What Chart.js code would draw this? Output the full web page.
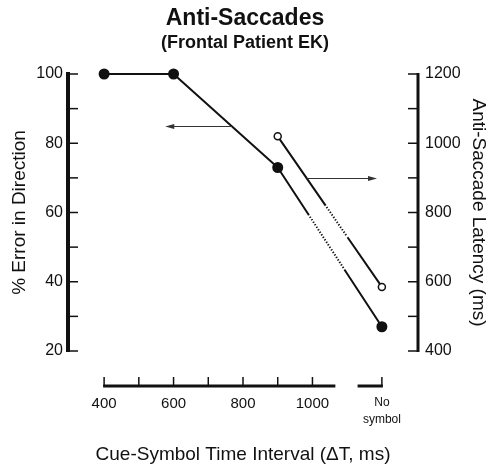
<!DOCTYPE html>
<html>
<head>
<meta charset="utf-8">
<script src="https://cdn.jsdelivr.net/npm/chart.js@4.4.1/dist/chart.umd.min.js"></script>
<style>
  html, body { margin: 0; padding: 0; background: #fff; }
</style>
</head>
<body>
<canvas id="chart" width="490" height="466"></canvas>
<script>
// interval values in ms; 1200 stands for the "No symbol" condition
const NO_SYMBOL = 1200;
const errorIntervals = [400, 600, 900, NO_SYMBOL];
const errorPct = [100, 100, 73, 27];
const latencyIntervals = [900, NO_SYMBOL];
const latencyMs = [1020, 585];

const xTickValues = [400, 500, 600, 700, 800, 900, 1000, NO_SYMBOL];
const xTickLabels = ['400', '', '600', '', '800', '', '1000', ['No', 'symbol']];
const errorTicks = [20, 40, 60, 80, 100];
const latencyTicks = [400, 600, 800, 1000, 1200];

const ink = '#111';
const family = "'Liberation Sans', Arial, sans-serif";
Chart.defaults.font.family = family;
Chart.defaults.color = ink;

// solid - dotted - solid across the axis break
function brokenDash(from, to, lastIndex) {
    return function (ctx) {
        if (ctx.p1DataIndex !== lastIndex) {
            return undefined;
        }
        const len = Math.hypot(ctx.p1.x - ctx.p0.x, ctx.p1.y - ctx.p0.y);
        const dotted = len * (to - from);
        const dot = 1.3, gap = 1.7;
        const n = Math.floor((dotted - gap) / (dot + gap));
        const dash = [len * from];
        for (let i = 0; i < n; i++) {
            dash.push(gap, dot);
        }
        dash.push(dotted - n * (dot + gap), len * (1 - to), len);
        return dash;
    };
}

const paperAxes = {
    id: 'paperAxes',
    afterDraw(chart) {
        const { ctx, chartArea } = chart;
        const { x, y, y1 } = chart.scales;
        const left = chartArea.left, right = chartArea.right;
        ctx.save();
        ctx.strokeStyle = ink;
        ctx.lineCap = 'butt';

        // left axis, ticks pointing inward
        ctx.lineWidth = 4;
        ctx.beginPath();
        ctx.moveTo(left, y.getPixelForValue(100) - 2);
        ctx.lineTo(left, y.getPixelForValue(20) + 1);
        ctx.stroke();
        ctx.lineWidth = 1.5;
        for (let v = 20; v <= 100; v += 10) {
            const py = y.getPixelForValue(v);
            ctx.beginPath();
            ctx.moveTo(left, py);
            ctx.lineTo(left + 10, py);
            ctx.stroke();
        }

        // right axis
        ctx.lineWidth = 3;
        ctx.beginPath();
        ctx.moveTo(right, y1.getPixelForValue(1200) - 1);
        ctx.lineTo(right, y1.getPixelForValue(400) + 1);
        ctx.stroke();
        ctx.lineWidth = 1.5;
        for (let v = 400; v <= 1200; v += 100) {
            const py = y1.getPixelForValue(v);
            ctx.beginPath();
            ctx.moveTo(right, py);
            ctx.lineTo(right - 10, py);
            ctx.stroke();
        }

        // detached x axis with a break before "No symbol"
        const ay = chartArea.bottom + 35;
        ctx.lineWidth = 3;
        ctx.beginPath();
        ctx.moveTo(x.getPixelForValue(400) - 1, ay);
        ctx.lineTo(x.getPixelForValue(1066), ay);
        ctx.moveTo(x.getPixelForValue(1130), ay);
        ctx.lineTo(x.getPixelForValue(NO_SYMBOL) + 1, ay);
        ctx.stroke();
        ctx.lineWidth = 1.5;
        xTickValues.forEach(function (v) {
            const px = x.getPixelForValue(v);
            ctx.beginPath();
            ctx.moveTo(px, ay);
            ctx.lineTo(px, ay - 9);
            ctx.stroke();
        });
        ctx.restore();
    }
};

const arrowsPlugin = {
    id: 'arrows',
    afterDatasetsDraw(chart, args, opts) {
        const { ctx } = chart;
        const x = chart.scales.x;
        ctx.save();
        ctx.strokeStyle = '#333';
        ctx.fillStyle = '#333';
        ctx.lineWidth = 1;
        opts.items.forEach(function (a) {
            const yScale = chart.scales[a.axis];
            const x0 = x.getPixelForValue(a.from), x1 = x.getPixelForValue(a.to);
            const py = Math.round(yScale.getPixelForValue(a.at)) + 0.5;
            const dir = Math.sign(x1 - x0);
            ctx.beginPath();
            ctx.moveTo(x0, py);
            ctx.lineTo(x1 - dir * 6, py);
            ctx.stroke();
            ctx.beginPath();
            ctx.moveTo(x1, py);
            ctx.lineTo(x1 - dir * 9, py - 2.5);
            ctx.lineTo(x1 - dir * 9, py + 2.5);
            ctx.closePath();
            ctx.fill();
        });
        ctx.restore();
    }
};

new Chart(document.getElementById('chart').getContext('2d'), {
    type: 'line',
    data: {
        datasets: [{
            label: '% Error in Direction',
            data: errorIntervals.map((v, i) => ({ x: v, y: errorPct[i] })),
            yAxisID: 'y',
            borderColor: ink,
            borderWidth: 2,
            pointRadius: 4.5,
            pointBackgroundColor: ink,
            pointBorderColor: ink,
            clip: false,
            segment: { borderDash: brokenDash(0.30, 0.64, errorIntervals.length - 1) }
        }, {
            label: 'Anti-Saccade Latency',
            data: latencyIntervals.map((v, i) => ({ x: v, y: latencyMs[i] })),
            yAxisID: 'y1',
            borderColor: ink,
            borderWidth: 2,
            pointRadius: 3.5,
            pointBorderWidth: 1.5,
            pointBackgroundColor: '#fff',
            pointBorderColor: ink,
            clip: false,
            segment: { borderDash: brokenDash(0.46, 0.67, latencyIntervals.length - 1) }
        }]
    },
    options: {
        responsive: false,
        animation: false,
        layout: { padding: 0 },
        plugins: {
            legend: { display: false },
            tooltip: { enabled: false },
            title: {
                display: true,
                text: 'Anti-Saccades',
                color: ink,
                font: { size: 23, weight: 'bold' },
                padding: { top: 5, bottom: 0 }
            },
            subtitle: {
                display: true,
                text: '(Frontal Patient EK)',
                color: ink,
                font: { size: 18, weight: 'bold' },
                padding: { top: 0, bottom: 19.8 }
            },
            arrows: {
                items: [
                    { from: 768, to: 576, at: 85, axis: 'y' },
                    { from: 984, to: 1186, at: 900, axis: 'y1' }
                ]
            }
        },
        scales: {
            x: {
                type: 'linear',
                min: 296,
                max: 1304,
                afterBuildTicks: s => { s.ticks = xTickValues.map(v => ({ value: v })); },
                afterFit: s => { s.height = 115; },
                grid: { display: false, drawTicks: false },
                border: { display: false },
                ticks: {
                    autoSkip: false,
                    maxRotation: 0,
                    padding: 44,
                    color: ink,
                    font: c => (c.tick && c.tick.value === NO_SYMBOL)
                        ? { size: 12, lineHeight: 1.35 }
                        : { size: 15 },
                    callback: v => xTickLabels[xTickValues.indexOf(v)]
                },
                title: {
                    display: true,
                    text: 'Cue-Symbol Time Interval (\u0394T, ms)',
                    color: ink,
                    font: { size: 19 },
                    padding: { top: 0, bottom: 0 }
                }
            },
            y: {
                position: 'left',
                min: 20,
                max: 100,
                afterBuildTicks: s => { s.ticks = errorTicks.map(v => ({ value: v })); },
                afterFit: s => { s.width = 68; },
                grid: { display: false, drawTicks: false },
                border: { display: false },
                ticks: { padding: 5, color: ink, font: { size: 16 }, callback: v => String(v) },
                title: {
                    display: true,
                    text: '% Error in Direction',
                    color: ink,
                    font: { size: 19 },
                    padding: { top: 8, bottom: 0 }
                }
            },
            y1: {
                position: 'right',
                min: 400,
                max: 1200,
                afterBuildTicks: s => { s.ticks = latencyTicks.map(v => ({ value: v })); },
                afterFit: s => { s.width = 72; },
                grid: { display: false, drawTicks: false },
                border: { display: false },
                ticks: { padding: 7, color: ink, font: { size: 16 }, callback: v => String(v) },
                title: {
                    display: true,
                    text: 'Anti-Saccade Latency (ms)',
                    color: ink,
                    font: { size: 19 },
                    padding: { top: 0, bottom: 0 }
                }
            }
        }
    },
    plugins: [paperAxes, arrowsPlugin]
});
</script>
</body>
</html>
